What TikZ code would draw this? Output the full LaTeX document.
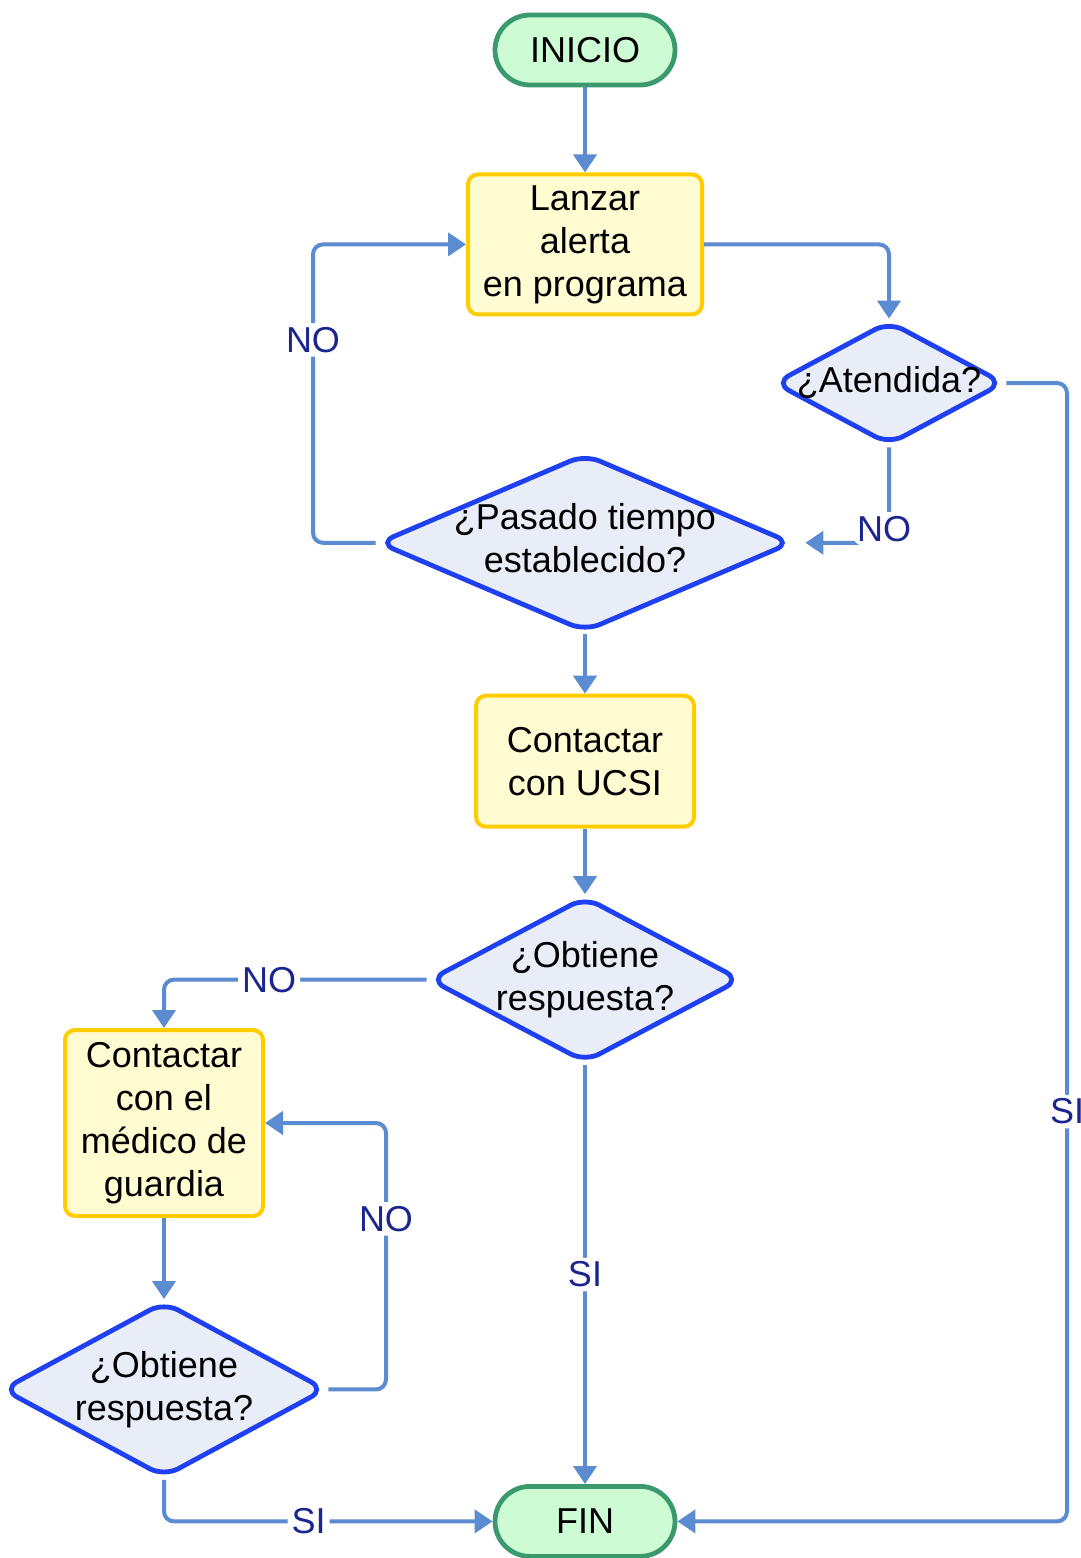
\documentclass[tikz,border=0pt]{standalone}
\usepackage{fontspec}
\setmainfont{Liberation Sans}
\usetikzlibrary{arrows.meta,positioning,shapes.geometric}
\definecolor{Flow}{HTML}{5B8BD0}
\definecolor{Royal}{HTML}{1E40F0}
\definecolor{Mist}{HTML}{E8EDF8}
\definecolor{Gold}{HTML}{FFCC00}
\definecolor{Cream}{HTML}{FFFCD2}
\definecolor{Mint}{HTML}{3A9A6E}
\definecolor{MintFill}{HTML}{CCFBD4}
\definecolor{Navy}{HTML}{1A2590}
\tikzset{
  arr/.style={-{Triangle[length=9pt,width=11.5pt]},line width=2pt,draw=Flow,rounded corners=5pt},
  startstop/.style={draw=Mint,fill=MintFill,line width=2.4pt,rounded corners=17.5pt,minimum width=90pt,minimum height=35pt},
  stepbox/.style={draw=Gold,fill=Cream,line width=2pt,rounded corners=5pt,align=center},
  decision/.style={diamond,draw=Royal,fill=Mist,line width=2.4pt,rounded corners=8pt,inner sep=0pt,label={[align=center]center:#1}},
  lbl/.style={fill=white,text=Navy,inner sep=2pt}
}
\begin{document}
\begin{tikzpicture}[font=\fontsize{18}{21.5}\selectfont]
  \useasboundingbox (0,0) rectangle (540.5pt,-779pt);
  \node[startstop] (inicio) at (292.5pt,-25pt) {INICIO};
  \node[stepbox,below=42.5pt of inicio,minimum width=117pt,minimum height=70pt] (lanzar) {Lanzar\\alerta\\en programa};
  \node[decision={\raisebox{2pt}{\begin{tabular}{@{}c@{}}¿Pasado tiempo\\establecido?\end{tabular}}},below=67.5pt of lanzar,minimum width=207pt,minimum height=89pt] (pasado) {};
  \node[stepbox,below=29.75pt of pasado,minimum width=109pt,minimum height=65.5pt] (ucsi) {Contactar\\con UCSI};
  \node[decision={¿Obtiene\\respuesta?},below=32.75pt of ucsi,minimum width=156pt,minimum height=83pt] (obtiene) {};
  \node[startstop,below=209.5pt of obtiene] (fin) {FIN};
  \node[decision={¿Atendida?},minimum width=115pt,minimum height=62pt] (atendida) at (444.5pt,-191.5pt) {};
  \node[stepbox,minimum width=99pt,minimum height=93pt] (medico) at (82pt,-561.5pt) {Contactar\\con el\\médico de\\guardia};
  \node[decision={¿Obtiene\\respuesta?},below=40.5pt of medico,minimum width=162pt,minimum height=88pt] (guardia) {};
  \coordinate (colSI) at (533.5pt,0);
  \coordinate (colNO) at (156.5pt,0);
  \coordinate (colNOb) at (193pt,0);
  \draw[arr] (inicio) -- (lanzar);
  \draw[arr] (lanzar) -| (atendida);
  \draw[arr] (atendida.east) -- (atendida.east -| colSI) |- (fin.east) node[lbl,pos=.32]{SI};
  \draw[arr] (atendida.south) |- ([xshift=5.5pt]pasado.east) node[lbl,pos=.5,xshift=-2.5pt,yshift=7pt]{NO};
  \draw[arr] (pasado.west) -- (pasado.west -| colNO) |- (lanzar.west) node[lbl,pos=.34]{NO};
  \draw[arr] (pasado) -- (ucsi);
  \draw[arr] (ucsi) -- (obtiene);
  \draw[arr] (obtiene.west) -| (medico.north) node[lbl,pos=.3]{NO};
  \draw[arr] (obtiene) -- (fin) node[lbl,pos=.5]{SI};
  \draw[arr] (medico) -- (guardia);
  \draw[arr] (guardia.east) -- (guardia.east -| colNOb) |- (medico.east) node[lbl,pos=.32]{NO};
  \draw[arr] (guardia.south) |- (fin.west) node[lbl,pos=.72]{SI};
\end{tikzpicture}
\end{document}
